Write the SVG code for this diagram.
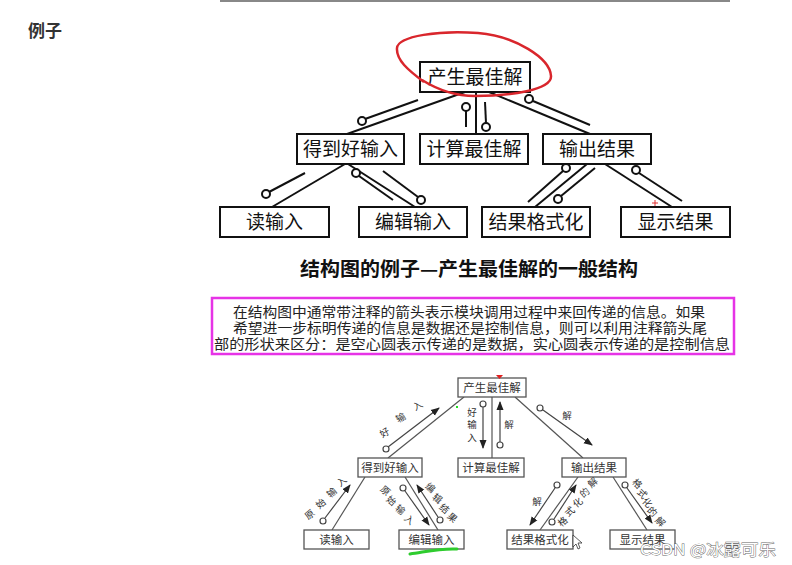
<svg xmlns="http://www.w3.org/2000/svg" width="792" height="565" viewBox="0 0 792 565">
<style>
.box{fill:#fff;stroke:#111;stroke-width:2}
.t{font-family:"Noto Sans CJK SC","Noto Sans CJK JP",sans-serif;font-size:19px;fill:#111;text-anchor:middle}
.c{stroke:#111;stroke-width:2;fill:none}
.o{fill:#fff;stroke:#111;stroke-width:2}
.bb{fill:#fff;stroke:#555;stroke-width:1.3}
.bt{font-family:"Noto Sans CJK SC","Noto Sans CJK JP",sans-serif;font-size:11.5px;fill:#333;text-anchor:middle}
.bl{font-family:"Noto Sans CJK SC","Noto Sans CJK JP",sans-serif;font-size:9.5px;fill:#333;text-anchor:middle}
.bc{stroke:#555;stroke-width:1.2;fill:none}
.ba{stroke:#444;stroke-width:1.2;fill:none;marker-end:url(#ah)}
.bo{fill:#fff;stroke:#444;stroke-width:1.2}
.p{font-family:"Noto Sans CJK SC","Noto Sans CJK JP",sans-serif;font-size:13.5px;fill:#222}
</style>
<defs>
<marker id="ah" markerWidth="9" markerHeight="8" refX="8" refY="4" orient="auto" markerUnits="userSpaceOnUse">
<path d="M0,0.5 L9,4 L0,7.5z" fill="#222"/>
</marker>
</defs>
<rect width="792" height="565" fill="#fff"/>
<line x1="220" y1="1" x2="730" y2="1" stroke="#888" stroke-width="2"/>
<text x="28" y="37" font-family="'Noto Sans CJK SC',sans-serif" font-size="17" font-weight="bold" fill="#333">例子</text>

<g id="connectors-top">
<line class="c" x1="465" y1="92" x2="347" y2="134"/>
<line class="c" x1="418" y1="100" x2="365" y2="119"/>
<circle class="o" cx="362" cy="121" r="4"/>
<line class="c" x1="476" y1="92" x2="476" y2="134"/>
<line class="c" x1="466" y1="111" x2="466" y2="127"/>
<circle class="o" cx="466" cy="107" r="4"/>
<line class="c" x1="485" y1="102" x2="486" y2="123"/>
<circle class="o" cx="486" cy="127" r="4"/>
<line class="c" x1="489" y1="92" x2="590" y2="134"/>
<line class="c" x1="533" y1="101" x2="590" y2="125"/>
<circle class="o" cx="529" cy="99" r="4"/>
<line class="c" x1="345" y1="164" x2="272" y2="207"/>
<line class="c" x1="305" y1="173" x2="269" y2="192"/>
<circle class="o" cx="266" cy="194" r="4"/>
<line class="c" x1="348" y1="164" x2="415" y2="207"/>
<line class="c" x1="359" y1="176" x2="393" y2="200"/>
<circle class="o" cx="356" cy="173" r="4"/>
<line class="c" x1="383" y1="171" x2="418" y2="197"/>
<circle class="o" cx="421" cy="200" r="4"/>
<line class="c" x1="587" y1="164" x2="535" y2="207"/>
<line class="c" x1="563" y1="171" x2="528" y2="202"/>
<circle class="o" cx="566" cy="168" r="4"/>
<line class="c" x1="595" y1="168" x2="561" y2="196"/>
<circle class="o" cx="558" cy="199" r="4"/>
<line class="c" x1="605" y1="164" x2="672" y2="207"/>
<line class="c" x1="639" y1="173" x2="682" y2="201"/>
<circle class="o" cx="636" cy="170" r="4"/>
</g>

<g id="t-best"><rect class="box" x="420" y="62" width="110" height="30"/><text class="t" x="475" y="84">产生最佳解</text></g>
<g id="t-input"><rect class="box" x="297" y="134" width="107" height="30"/><text class="t" x="350.5" y="156">得到好输入</text></g>
<g id="t-compute"><rect class="box" x="420" y="134" width="108" height="30"/><text class="t" x="474" y="156">计算最佳解</text></g>
<g id="t-output"><rect class="box" x="543" y="134" width="108" height="30"/><text class="t" x="597" y="156">输出结果</text></g>
<g id="t-read"><rect class="box" x="220" y="207" width="109" height="30"/><text class="t" x="274.5" y="229">读输入</text></g>
<g id="t-edit"><rect class="box" x="359" y="207" width="108" height="30"/><text class="t" x="413" y="229">编辑输入</text></g>
<g id="t-format"><rect class="box" x="482" y="207" width="108" height="30"/><text class="t" x="536" y="229">结果格式化</text></g>
<g id="t-show"><rect class="box" x="621" y="207" width="109" height="30"/><text class="t" x="675.5" y="229">显示结果</text></g>

<path d="M422,80 C438,90 455,96 475,96 C510,96 552,90 551,76 C550,58 515,36 478,33 C440,30 398,36 397,48 C396,60 408,70 424,82" fill="none" stroke="#d9262c" stroke-width="2.5"/>
<path d="M655,200 L655,206 M652,203 L658,203" stroke="#e03030" stroke-width="1"/>

<text x="300" y="276" textLength="338" lengthAdjust="spacingAndGlyphs" font-family="'Noto Sans CJK SC',sans-serif" font-size="19" font-weight="bold" fill="#111">结构图的例子—产生最佳解的一般结构</text>

<rect x="212" y="298" width="522" height="56" fill="none" stroke="#e633e6" stroke-width="2.5"/>
<text class="p" x="233" y="317" textLength="472" lengthAdjust="spacingAndGlyphs">在结构图中通常带注释的箭头表示模块调用过程中来回传递的信息。如果</text>
<text class="p" x="233" y="333" textLength="474" lengthAdjust="spacingAndGlyphs">希望进一步标明传递的信息是数据还是控制信息，则可以利用注释箭头尾</text>
<text class="p" x="214" y="349" textLength="516" lengthAdjust="spacingAndGlyphs">部的形状来区分：是空心圆表示传递的是数据，实心圆表示传递的是控制信息</text>

<g id="connectors-bottom">
<line class="bc" x1="464" y1="397" x2="388" y2="458"/>
<line class="bc" x1="492" y1="397" x2="492" y2="458"/>
<line class="bc" x1="515" y1="397" x2="583" y2="458"/>
<line class="bc" x1="365" y1="477" x2="332" y2="530"/>
<line class="bc" x1="405" y1="477" x2="438" y2="530"/>
<line class="bc" x1="578" y1="477" x2="540" y2="530"/>
<line class="bc" x1="613" y1="477" x2="647" y2="530"/>

<line class="ba" x1="388" y1="447" x2="439" y2="408"/><circle class="bo" cx="386" cy="449" r="3"/>
<line class="ba" x1="483" y1="407" x2="483" y2="448"/><circle class="bo" cx="483" cy="404" r="3"/>
<line class="ba" x1="500" y1="442" x2="500" y2="402"/><circle class="bo" cx="500" cy="445" r="3"/>
<line class="ba" x1="543" y1="410" x2="592" y2="445"/><circle class="bo" cx="540" cy="408" r="3"/>
<line class="ba" x1="325" y1="518" x2="350" y2="485"/><circle class="bo" cx="323" cy="521" r="3"/>
<line class="ba" x1="405" y1="491" x2="429" y2="525"/><circle class="bo" cx="403" cy="488" r="3"/>
<line class="ba" x1="438" y1="517" x2="417" y2="485"/><circle class="bo" cx="440" cy="520" r="3"/>
<line class="ba" x1="555" y1="488" x2="530" y2="525"/><circle class="bo" cx="557" cy="485" r="3"/>
<line class="ba" x1="554" y1="519" x2="576" y2="485"/><circle class="bo" cx="552" cy="522" r="3"/>
<line class="ba" x1="627" y1="488" x2="652" y2="523"/><circle class="bo" cx="625" cy="485" r="3"/>

<g class="bl">
<text x="385" y="436" transform="rotate(-30 385 433)">好</text>
<text x="401" y="421" transform="rotate(-30 401 418)">输</text>
<text x="418" y="409" transform="rotate(-30 418 406)">入</text>
<text x="472" y="416">好</text>
<text x="472" y="428">输</text>
<text x="472" y="441">入</text>
<text x="509" y="428">解</text>
<text x="567" y="419">解</text>
<text x="310" y="518" transform="rotate(-40 310 515)">原</text>
<text x="321" y="507" transform="rotate(-40 321 504)">始</text>
<text x="332" y="496" transform="rotate(-40 332 493)">输</text>
<text x="342" y="485" transform="rotate(-40 342 482)">入</text>
<text x="385" y="494" transform="rotate(40 385 491)">原</text>
<text x="391" y="504" transform="rotate(40 391 501)">始</text>
<text x="400" y="513" transform="rotate(40 400 510)">输</text>
<text x="409" y="523" transform="rotate(40 409 520)">入</text>
<text x="430" y="491" transform="rotate(40 430 488)">编</text>
<text x="437" y="502" transform="rotate(40 437 499)">辑</text>
<text x="444" y="512" transform="rotate(40 444 509)">结</text>
<text x="452" y="521" transform="rotate(40 452 518)">果</text>
<text x="537" y="505">解</text>
<text x="563" y="525" transform="rotate(-40 563 522)">格</text>
<text x="570" y="515" transform="rotate(-40 570 512)">式</text>
<text x="578" y="506" transform="rotate(-40 578 503)">化</text>
<text x="585" y="496" transform="rotate(-40 585 493)">的</text>
<text x="593" y="486" transform="rotate(-40 593 483)">解</text>
<text x="637" y="487" transform="rotate(45 637 484)">格</text>
<text x="642" y="497" transform="rotate(45 642 494)">式</text>
<text x="647" y="506" transform="rotate(45 647 503)">化</text>
<text x="652" y="515" transform="rotate(45 652 512)">的</text>
<text x="660" y="525" transform="rotate(45 660 522)">解</text>
</g>
</g>

<g id="b-best"><rect class="bb" x="458" y="378" width="68" height="19"/><text class="bt" x="492" y="392">产生最佳解</text></g>
<g id="b-input"><rect class="bb" x="358" y="458" width="64" height="19"/><text class="bt" x="390" y="472">得到好输入</text></g>
<g id="b-compute"><rect class="bb" x="458" y="458" width="66" height="19"/><text class="bt" x="491" y="472">计算最佳解</text></g>
<g id="b-output"><rect class="bb" x="562" y="458" width="64" height="19"/><text class="bt" x="594" y="472">输出结果</text></g>
<g id="b-read"><rect class="bb" x="304" y="530" width="65" height="19"/><text class="bt" x="336.5" y="544">读输入</text></g>
<g id="b-edit"><rect class="bb" x="399" y="530" width="65" height="19"/><text class="bt" x="431.5" y="544">编辑输入</text></g>
<g id="b-format"><rect class="bb" x="507" y="530" width="66" height="19"/><text class="bt" x="540" y="544">结果格式化</text></g>
<g id="b-show"><rect class="bb" x="610" y="530" width="65" height="19"/><text class="bt" x="642.5" y="544">显示结果</text></g>

<path d="M496,375 L503,375 L499.5,379z" fill="#e02020"/>
<rect x="456" y="406" width="2" height="2" fill="#22dd22"/>
<path d="M410,554 C425,552 440,548 457,549" fill="none" stroke="#2ecc2e" stroke-width="3" stroke-linecap="round"/>
<path d="M573,535 L573,547 L576,544 L578,549 L580,548 L578,543 L582,543z" fill="#fff" stroke="#333" stroke-width="0.8"/>
<text x="640" y="555" textLength="136" lengthAdjust="spacingAndGlyphs" font-family="'Noto Sans CJK SC',sans-serif" font-size="15" fill="#fff" stroke="#666" stroke-width="0.8" paint-order="stroke">CSDN @冰露可乐</text>
</svg>
